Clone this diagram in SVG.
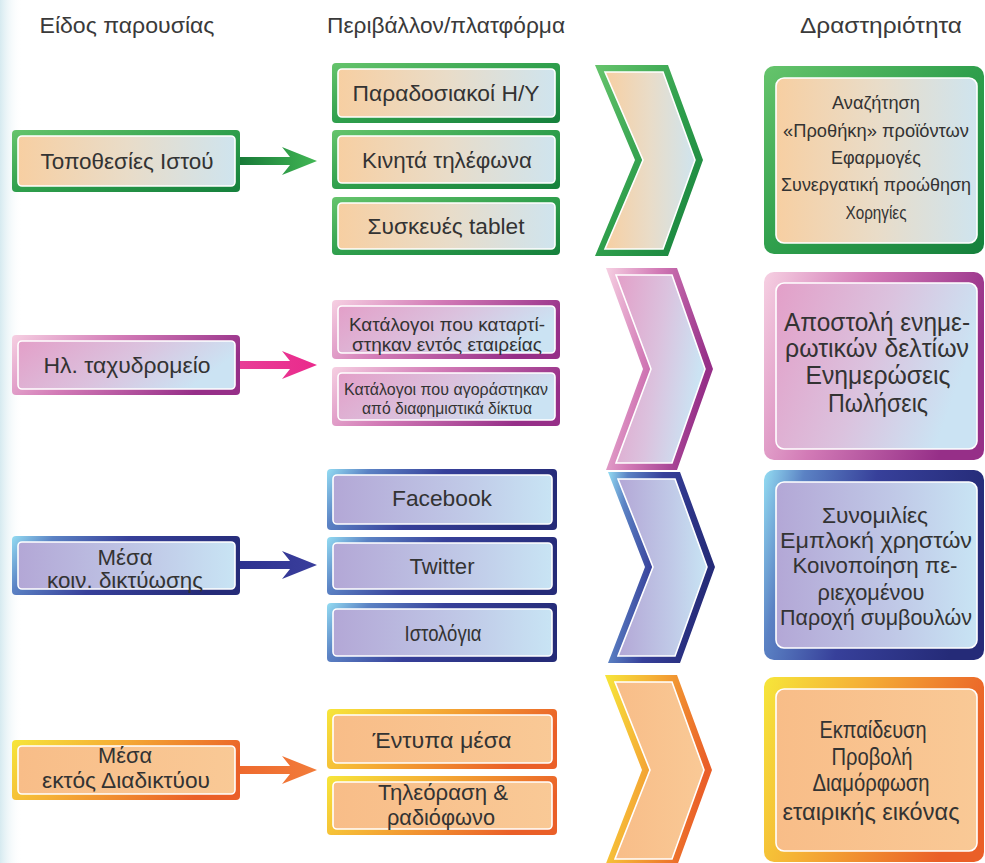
<svg xmlns="http://www.w3.org/2000/svg" width="985" height="863" viewBox="0 0 985 863">
<style>
.t{font-family:"Liberation Sans","DejaVu Sans",sans-serif;fill:#333333;text-anchor:middle}
.h{font-size:22px;fill:#3a3a3a}
.in{stroke:#ffffff;stroke-width:1.6}
.m{font-size:22.5px}
.s20{font-size:18.5px}
.s17{font-size:16.5px}
.r1{font-size:18px}
.r2{font-size:25px}
.r3{font-size:22px}
.r4{font-size:23px}
</style>
<defs>
<linearGradient id="bgL" x1="0" y1="0" x2="1" y2="0"><stop offset="0" stop-color="#d6eaf0"/><stop offset="1" stop-color="#ffffff" stop-opacity="0"/></linearGradient>
<linearGradient id="frG" x1="0" y1="0" x2="1" y2="1"><stop offset="0" stop-color="#66c46c"/><stop offset="0.5" stop-color="#2f9f4c"/><stop offset="1" stop-color="#15803c"/></linearGradient>
<linearGradient id="fiG" x1="0" y1="0" x2="1" y2="0"><stop offset="0" stop-color="#f7cfa2"/><stop offset="0.5" stop-color="#e9dcc8"/><stop offset="1" stop-color="#cfe4ee"/></linearGradient>
<linearGradient id="frP" x1="0" y1="0" x2="1" y2="0.3"><stop offset="0" stop-color="#f6d0e2"/><stop offset="0.45" stop-color="#d27ab6"/><stop offset="1" stop-color="#962f88"/></linearGradient>
<linearGradient id="fiP" x1="0" y1="0" x2="1" y2="0.3"><stop offset="0" stop-color="#e39fc8"/><stop offset="0.55" stop-color="#dbc2de"/><stop offset="1" stop-color="#cbe3f3"/></linearGradient>
<linearGradient id="frB" x1="0" y1="0" x2="1" y2="0.2"><stop offset="0" stop-color="#93dcf2"/><stop offset="0.18" stop-color="#5b82c4"/><stop offset="0.5" stop-color="#37409a"/><stop offset="1" stop-color="#252b78"/></linearGradient>
<linearGradient id="fiB" x1="0" y1="0" x2="1" y2="0"><stop offset="0" stop-color="#b3a7d6"/><stop offset="0.6" stop-color="#c0c9e7"/><stop offset="1" stop-color="#c8e4f4"/></linearGradient>
<linearGradient id="frO" x1="0" y1="0" x2="1" y2="0.3"><stop offset="0" stop-color="#f6e63a"/><stop offset="0.4" stop-color="#f5b236"/><stop offset="1" stop-color="#ea5f28"/></linearGradient>
<linearGradient id="fiO" x1="0" y1="0" x2="1" y2="0"><stop offset="0" stop-color="#f8bd88"/><stop offset="1" stop-color="#f9c996"/></linearGradient>
<linearGradient id="arG" x1="0" y1="0" x2="1" y2="0"><stop offset="0" stop-color="#187a38"/><stop offset="1" stop-color="#42b755"/></linearGradient>
<linearGradient id="arP" x1="0" y1="0" x2="1" y2="0"><stop offset="0" stop-color="#e83d96"/><stop offset="1" stop-color="#ea2a8c"/></linearGradient>
<linearGradient id="arB" x1="0" y1="0" x2="1" y2="0"><stop offset="0" stop-color="#2e3290"/><stop offset="1" stop-color="#3a3e9c"/></linearGradient>
<linearGradient id="arO" x1="0" y1="0" x2="1" y2="0"><stop offset="0" stop-color="#ee6a2e"/><stop offset="1" stop-color="#f27c3a"/></linearGradient>
</defs>

<rect x="0" y="0" width="985" height="863" fill="#ffffff"/>
<rect x="0" y="0" width="22" height="863" fill="url(#bgL)"/>

<g id="headers">
<text class="t h" x="127" y="33" textLength="175" lengthAdjust="spacingAndGlyphs">Είδος παρουσίας</text>
<text class="t h" x="446" y="33" textLength="238" lengthAdjust="spacingAndGlyphs">Περιβάλλον/πλατφόρμα</text>
<text class="t h" x="881" y="33" textLength="162" lengthAdjust="spacingAndGlyphs">Δραστηριότητα</text>
</g>

<g id="connectors">
<path d="M240,157 H290 L282,147 L317,161 L282,175 L290,165 H240 Z" fill="url(#arG)"/>
<path d="M240,361 H290 L282,351 L317,365 L282,379 L290,369 H240 Z" fill="url(#arP)"/>
<path d="M240,561 H290 L282,551 L317,565 L282,579 L290,569 H240 Z" fill="url(#arB)"/>
<path d="M240,766 H290 L282,756 L317,770 L282,784 L290,774 H240 Z" fill="url(#arO)"/>
</g>

<!-- Row 1 green -->
<g id="web">
<rect x="12" y="130" width="228" height="62" rx="4" fill="url(#frG)"/>
<rect x="18" y="136" width="217" height="50" rx="4" fill="url(#fiG)" class="in"/>
<text class="t m" x="127" y="169" textLength="173" lengthAdjust="spacingAndGlyphs">Τοποθεσίες Ιστού</text>
</g>
<g id="pc">
<rect x="332" y="63" width="228" height="60" rx="4" fill="url(#frG)"/>
<rect x="338" y="69" width="217" height="48" rx="4" fill="url(#fiG)" class="in"/>
<text class="t m" x="446" y="101" textLength="187" lengthAdjust="spacingAndGlyphs">Παραδοσιακοί Η/Υ</text>
</g>
<g id="mobile">
<rect x="332" y="130" width="228" height="59" rx="4" fill="url(#frG)"/>
<rect x="338" y="136" width="217" height="47" rx="4" fill="url(#fiG)" class="in"/>
<text class="t m" x="447" y="168" textLength="170" lengthAdjust="spacingAndGlyphs">Κινητά τηλέφωνα</text>
</g>
<g id="tablet">
<rect x="332" y="197" width="228" height="58" rx="4" fill="url(#frG)"/>
<rect x="338" y="203" width="217" height="46" rx="4" fill="url(#fiG)" class="in"/>
<text class="t m" x="446" y="234" textLength="157" lengthAdjust="spacingAndGlyphs">Συσκευές tablet</text>
</g>
<g id="chev1">
<polygon points="595,65 668,65 703,160 668,256 595,256 635,160" fill="url(#frG)"/>
<polygon points="605,72 663,72 695,160 663,249 605,249 643,160" fill="url(#fiG)" class="in"/>
</g>
<g id="act1">
<rect x="764" y="66" width="220" height="188" rx="10" fill="url(#frG)"/>
<rect x="776" y="78" width="201" height="165" rx="8" fill="url(#fiG)" class="in"/>
<text class="t r1" x="876" y="109" textLength="88" lengthAdjust="spacingAndGlyphs">Αναζήτηση</text>
<text class="t r1" x="876" y="137" textLength="186" lengthAdjust="spacingAndGlyphs">«Προθήκη» προϊόντων</text>
<text class="t r1" x="876" y="164" textLength="90" lengthAdjust="spacingAndGlyphs">Εφαρμογές</text>
<text class="t r1" x="876" y="191" textLength="190" lengthAdjust="spacingAndGlyphs">Συνεργατική προώθηση</text>
<text class="t r1" x="876" y="219" textLength="61" lengthAdjust="spacingAndGlyphs">Χορηγίες</text>
</g>

<!-- Row 2 pink -->
<g id="email">
<rect x="12" y="335" width="228" height="60" rx="4" fill="url(#frP)"/>
<rect x="18" y="341" width="217" height="48" rx="4" fill="url(#fiP)" class="in"/>
<text class="t m" x="127" y="373" textLength="167" lengthAdjust="spacingAndGlyphs">Ηλ. ταχυδρομείο</text>
</g>
<g id="lists-internal">
<rect x="332" y="300" width="228" height="59" rx="4" fill="url(#frP)"/>
<rect x="338" y="306" width="217" height="47" rx="4" fill="url(#fiP)" class="in"/>
<text class="t s20" x="447" y="331" textLength="196" lengthAdjust="spacingAndGlyphs">Κατάλογοι που καταρτί-</text>
<text class="t s20" x="447" y="351" textLength="190" lengthAdjust="spacingAndGlyphs">στηκαν εντός εταιρείας</text>
</g>
<g id="lists-bought">
<rect x="332" y="367" width="228" height="59" rx="4" fill="url(#frP)"/>
<rect x="338" y="373" width="217" height="47" rx="4" fill="url(#fiP)" class="in"/>
<text class="t s17" x="446" y="395" textLength="204" lengthAdjust="spacingAndGlyphs">Κατάλογοι που αγοράστηκαν</text>
<text class="t s17" x="447" y="414" textLength="170" lengthAdjust="spacingAndGlyphs">από διαφημιστικά δίκτυα</text>
</g>
<g id="chev2">
<polygon points="606,268 677,268 713,369 677,470 606,470 643,369" fill="url(#frP)"/>
<polygon points="616,275 672,275 705,369 672,463 616,463 651,369" fill="url(#fiP)" class="in"/>
</g>
<g id="act2">
<rect x="764" y="272" width="220" height="188" rx="10" fill="url(#frP)"/>
<rect x="776" y="283" width="201" height="166" rx="8" fill="url(#fiP)" class="in"/>
<text class="t r2" x="877" y="331" textLength="186" lengthAdjust="spacingAndGlyphs">Αποστολή ενημε-</text>
<text class="t r2" x="877" y="357" textLength="184" lengthAdjust="spacingAndGlyphs">ρωτικών δελτίων</text>
<text class="t r2" x="878" y="384" textLength="145" lengthAdjust="spacingAndGlyphs">Ενημερώσεις</text>
<text class="t r2" x="878" y="412" textLength="100" lengthAdjust="spacingAndGlyphs">Πωλήσεις</text>
</g>

<!-- Row 3 blue -->
<g id="social">
<rect x="12" y="536" width="228" height="59" rx="4" fill="url(#frB)"/>
<rect x="18" y="542" width="217" height="47" rx="4" fill="url(#fiB)" class="in"/>
<text class="t m" x="125" y="565" textLength="55" lengthAdjust="spacingAndGlyphs">Μέσα</text>
<text class="t m" x="125" y="588" textLength="156" lengthAdjust="spacingAndGlyphs">κοιν. δικτύωσης</text>
</g>
<g id="facebook">
<rect x="327" y="469" width="230" height="61" rx="4" fill="url(#frB)"/>
<rect x="333" y="475" width="219" height="49" rx="4" fill="url(#fiB)" class="in"/>
<text class="t m" x="442" y="506" textLength="100" lengthAdjust="spacingAndGlyphs">Facebook</text>
</g>
<g id="twitter">
<rect x="327" y="537" width="230" height="58" rx="4" fill="url(#frB)"/>
<rect x="333" y="543" width="219" height="46" rx="4" fill="url(#fiB)" class="in"/>
<text class="t m" x="442" y="574" textLength="65" lengthAdjust="spacingAndGlyphs">Twitter</text>
</g>
<g id="blogs">
<rect x="327" y="603" width="230" height="59" rx="4" fill="url(#frB)"/>
<rect x="333" y="609" width="219" height="47" rx="4" fill="url(#fiB)" class="in"/>
<text class="t m" x="443" y="641" textLength="77" lengthAdjust="spacingAndGlyphs">Ιστολόγια</text>
</g>
<g id="chev3">
<polygon points="608,472 680,472 715,567 680,663 608,663 645,567" fill="url(#frB)"/>
<polygon points="618,479 675,479 707,567 675,656 618,656 653,567" fill="url(#fiB)" class="in"/>
</g>
<g id="act3">
<rect x="764" y="470" width="220" height="190" rx="10" fill="url(#frB)"/>
<rect x="776" y="482" width="201" height="166" rx="8" fill="url(#fiB)" class="in"/>
<text class="t r3" x="875" y="523" textLength="106" lengthAdjust="spacingAndGlyphs">Συνομιλίες</text>
<text class="t r3" x="876" y="548" textLength="192" lengthAdjust="spacingAndGlyphs">Εμπλοκή χρηστών</text>
<text class="t r3" x="875" y="573" textLength="165" lengthAdjust="spacingAndGlyphs">Κοινοποίηση πε-</text>
<text class="t r3" x="871" y="600" textLength="107" lengthAdjust="spacingAndGlyphs">ριεχομένου</text>
<text class="t r3" x="876" y="625" textLength="192" lengthAdjust="spacingAndGlyphs">Παροχή συμβουλών</text>
</g>

<!-- Row 4 orange -->
<g id="offline">
<rect x="12" y="740" width="228" height="60" rx="4" fill="url(#frO)"/>
<rect x="18" y="746" width="217" height="48" rx="4" fill="url(#fiO)" class="in"/>
<text class="t m" x="125" y="763" textLength="54" lengthAdjust="spacingAndGlyphs">Μέσα</text>
<text class="t m" x="126" y="788" textLength="168" lengthAdjust="spacingAndGlyphs">εκτός Διαδικτύου</text>
</g>
<g id="print">
<rect x="327" y="709" width="230" height="60" rx="4" fill="url(#frO)"/>
<rect x="333" y="715" width="219" height="48" rx="4" fill="url(#fiO)" class="in"/>
<text class="t m" x="442" y="748" textLength="139" lengthAdjust="spacingAndGlyphs">Έντυπα μέσα</text>
</g>
<g id="tv-radio">
<rect x="327" y="776" width="230" height="59" rx="4" fill="url(#frO)"/>
<rect x="333" y="782" width="219" height="47" rx="4" fill="url(#fiO)" class="in"/>
<text class="t m" x="443" y="800" textLength="130" lengthAdjust="spacingAndGlyphs">Τηλεόραση &amp;</text>
<text class="t m" x="441" y="825" textLength="108" lengthAdjust="spacingAndGlyphs">ραδιόφωνο</text>
</g>
<g id="chev4">
<polygon points="605,675 677,675 712,770 677,866 605,866 642,770" fill="url(#frO)"/>
<polygon points="615,682 672,682 704,770 672,859 615,859 650,770" fill="url(#fiO)" class="in"/>
</g>
<g id="act4">
<rect x="764" y="677" width="220" height="185" rx="10" fill="url(#frO)"/>
<rect x="776" y="689" width="201" height="162" rx="8" fill="url(#fiO)" class="in"/>
<text class="t r4" x="873" y="738" textLength="107" lengthAdjust="spacingAndGlyphs">Εκπαίδευση</text>
<text class="t r4" x="872" y="765" textLength="81" lengthAdjust="spacingAndGlyphs">Προβολή</text>
<text class="t r4" x="871" y="791" textLength="117" lengthAdjust="spacingAndGlyphs">Διαμόρφωση</text>
<text class="t r4" x="871" y="820" textLength="177" lengthAdjust="spacingAndGlyphs">εταιρικής εικόνας</text>
</g>
</svg>
